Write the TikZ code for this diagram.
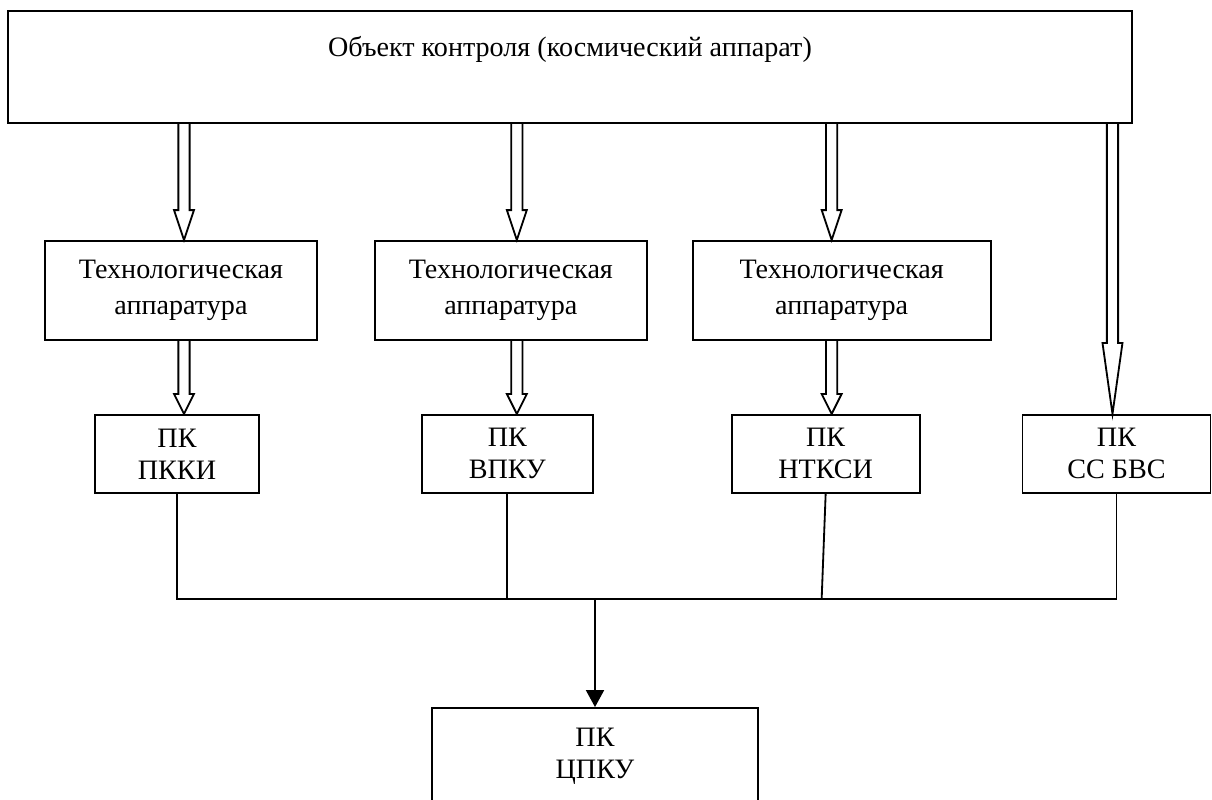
\documentclass[tikz,border=0pt]{standalone}
\usepackage{fontspec}
\setmainfont{Liberation Serif}
\usetikzlibrary{positioning,calc,arrows.meta}
\tikzstyle{block}=[draw, line width=1.3pt, align=center, font=\fontsize{20}{26}\selectfont]
\tikzstyle{tech}=[block, minimum width=6.8cm, minimum height=2.475cm]
\tikzstyle{pk}=[block, minimum height=1.95cm, font=\fontsize{20}{22.8}\selectfont]
\tikzstyle{wire}=[line width=1.3pt]
\tikzstyle{arrow}=[line width=1.3pt,->,>={Triangle[length=.425cm,width=.45cm]}]
\tikzset{dbl/.style={line width=1.3pt, to path={let \p1=(\tikztostart), \p2=(\tikztotarget) in
  (\x1-.14cm,\y1) -- (\x1-.14cm,\y2+#1) -- (\x1-.25cm,\y2+#1) -- (\x1,\y2)
  -- (\x1+.25cm,\y2+#1) -- (\x1+.14cm,\y2+#1) -- (\x1+.14cm,\y1)}}}

\begin{document}
\begin{tikzpicture}[node distance=1cm,auto]
\useasboundingbox (0,0) rectangle (30.3,-20);
\clip (0,0) rectangle (30.3,-20);

\node (obj) [block, minimum width=28.1cm, minimum height=2.8cm] at (14.25,-1.675) {};
\node (objtxt) [font=\fontsize{20}{26}\selectfont] at ([yshift=-.975cm]obj.north) {Объект контроля (космический аппарат)};

\node (t1) [tech] at (4.525,-7.2625) {Технологическая\\аппаратура};
\node (t2) [tech, right=1.4 of t1] {Технологическая\\аппаратура};
\node (t3) [tech, right=1.1 of t2, minimum width=7.45cm] {Технологическая\\аппаратура};

\node (p1) [pk, minimum width=4.1cm, below=1.825 of t1, xshift=-.1cm] {ПК\\ПККИ};
\node (p2) [pk, minimum width=4.275cm, below=1.825 of t2, xshift=-.0875cm] {ПК\\ВПКУ};
\node (p3) [pk, minimum width=4.7cm, below=1.825 of t3, xshift=-.4cm] {ПК\\НТКСИ};
\node (p4) [pk, minimum width=4.7cm, right=2.525 of p3] {ПК\\СС БВС};

\node (pc) [pk, minimum width=8.15cm, minimum height=2.4cm] at (14.875,-18.9) {ПК\\ЦПКУ};
\coordinate (bus) at ([yshift=2.7cm]pc.north);

\draw[dbl=.75cm] ($(obj.south -| t1.north)+(.075,0)$) to (t1.north);
\draw[dbl=.75cm] ($(obj.south -| t2.north)+(.15,0)$) to (t2.north);
\draw[dbl=.75cm] ($(obj.south -| t3.north)+(-.25,0)$) to (t3.north);
\draw[dbl=1.775cm] ($(obj.south -| p4.north)+(-.1,0)$) to (p4.north);

\draw[dbl=.5cm] ($(t1.south)+(.075,0)$) to (p1.north);
\draw[dbl=.5cm] ($(t2.south)+(.15,0)$) to (p2.north);
\draw[dbl=.5cm] ($(t3.south)+(-.25,0)$) to (p3.north);

\draw[wire] (p1.south) -- (p1.south |- bus) -- (p4.south |- bus) -- (p4.south);
\draw[wire] (p2.south) -- (p2.south |- bus);
\draw[wire] (p3.south) -- ($(p3.south |- bus)+(-.1,0)$);
\draw[arrow] (bus) -- (pc.north);
\end{tikzpicture}
\end{document}
